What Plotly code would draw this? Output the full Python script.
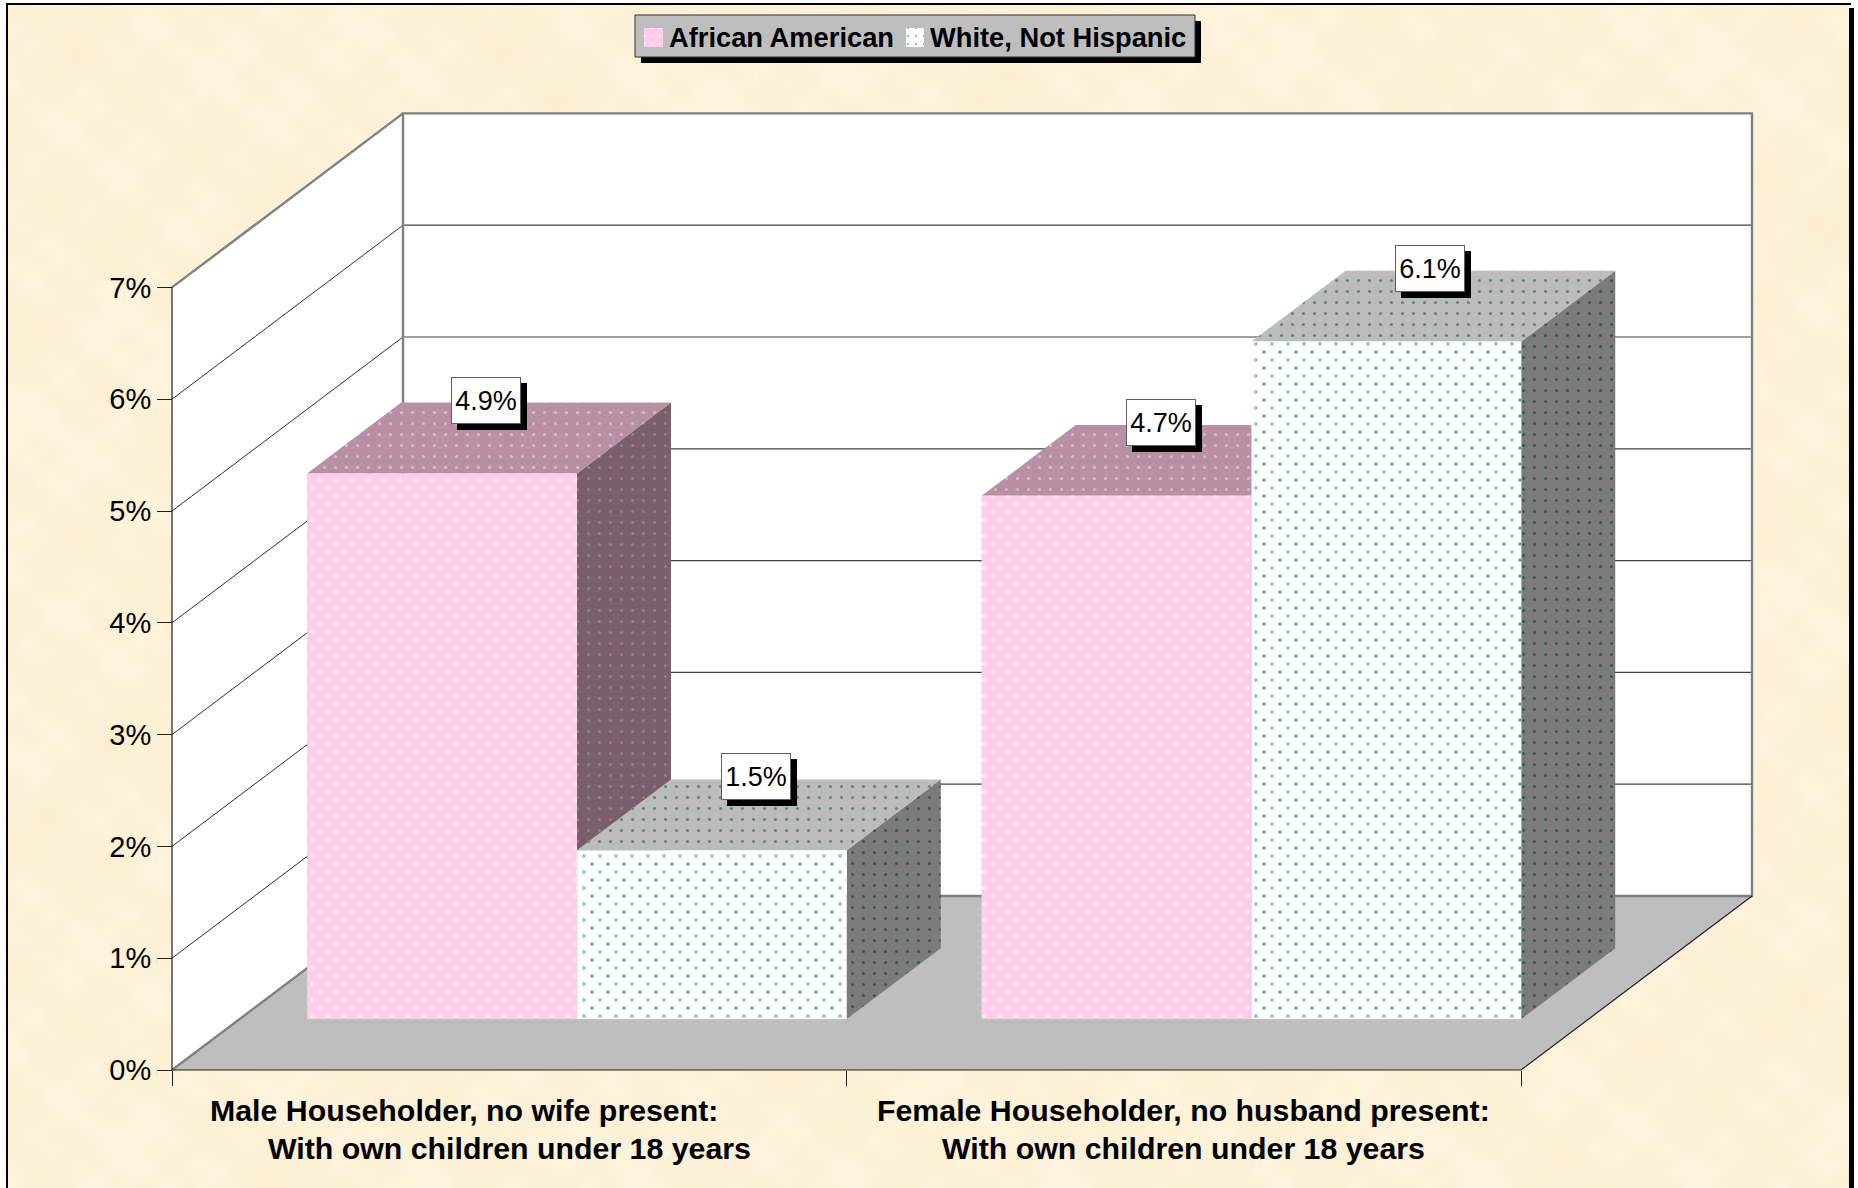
import base64, struct, zlib
import numpy as np
import plotly.graph_objects as go

# ---- data ----
categories = ["Male Householder, no wife present:", "Female Householder, no husband present:"]
subtitle = "With own children under 18 years"
series_names = ["African American", "White, Not Hispanic"]
african_american = [4.88, 4.68]
white_not_hispanic = [1.51, 6.06]
y_ticks = [0, 1, 2, 3, 4, 5, 6, 7]

# ---- geometry (pixels of the page and the oblique projection) ----
W, H = 1858, 1188
X0_PX, Y0_PX = 172, 1070          # origin of the front plane
CAT_PX, UNIT_PX = 674.5, 111.8    # px per category, px per percent
DEPTH_PX_X, DEPTH_PX_Y = 231, 174
DX, DY = DEPTH_PX_X / CAT_PX, DEPTH_PX_Y / UNIT_PX
GAP, BAR_W = 0.1, 0.4
D0, D1 = 0.293, 0.7
YMAX = y_ticks[-1]
NCAT = len(categories)
FONT = "Liberation Sans, Arial, sans-serif"
OFFSET_PX = 8                     # second pattern layer starts half a tile away


def proj(cat, depth, val):
    return cat + depth * DX, val + depth * DY


def poly(*pts):
    xs, ys = zip(*[proj(*p) for p in pts])
    return list(xs) + [xs[0]], list(ys) + [ys[0]]


def segs(*lines):
    xs, ys = [], []
    for line in lines:
        for p in line:
            a, b = proj(*p)
            xs.append(a)
            ys.append(b)
        xs.append(None)
        ys.append(None)
    return xs, ys


def px_rect(x0, x1, y0, y1):
    xs = [(p - X0_PX) / CAT_PX for p in (x0, x1, x1, x0, x0)]
    ys = [(Y0_PX - p) / UNIT_PX for p in (y0, y0, y1, y1, y0)]
    return xs, ys


def parchment_png():
    w, h = 232, 148
    yy, xx = np.mgrid[0:h, 0:w].astype(float)
    t = (np.sin(xx * .11 + yy * .07) * .5 + np.sin(xx * .23 - yy * .31 + 1.3)
         + np.sin(xx * .47 + yy * .41 + 2.1) + np.sin(xx * .71 - yy * .83 + .4)
         + np.sin(yy * .19 + 4 * np.sin(xx * .05)) * .6 + np.sin(xx * 1.3 + yy * 1.7) * .8)
    t = t / np.abs(t).max()
    r = 253 - 1 * np.clip(t, 0, 1) + 1 * np.clip(-t, 0, 1)
    g = 242 - 3 * np.clip(t, 0, 1) + 1 * np.clip(-t, 0, 1)
    b = 217 - 8 * np.clip(t, 0, 1) + 6 * np.clip(-t, 0, 1)
    rgb = np.dstack([r, g, b]).clip(0, 255).astype(np.uint8)
    raw = b"".join(b"\0" + rgb[i].tobytes() for i in range(h))

    def chunk(tag, data):
        body = tag + data
        return struct.pack(">I", len(data)) + body + struct.pack(">I", zlib.crc32(body))

    png = (b"\x89PNG\r\n\x1a\n" + chunk(b"IHDR", struct.pack(">IIBBBBB", w, h, 8, 2, 0, 0, 0))
           + chunk(b"IDAT", zlib.compress(raw)) + chunk(b"IEND", b""))
    return "data:image/png;base64," + base64.b64encode(png).decode()


fig = go.Figure()


def add_fill(x, y, color, name=None, pattern=None, axes=("x", "y")):
    fig.add_trace(go.Scatter(
        x=x, y=y, mode="lines", fill="toself", fillcolor=color, line=dict(width=0, color=color),
        fillpattern=pattern, name=name, showlegend=False, hoverinfo="skip", xaxis=axes[0], yaxis=axes[1]))


def add_line(x, y, color, width):
    fig.add_trace(go.Scatter(x=x, y=y, mode="lines", line=dict(color=color, width=width),
                             showlegend=False, hoverinfo="skip"))


# walls and floor
add_fill(*poly((0, 0, 0), (0, 1, 0), (0, 1, YMAX), (0, 0, YMAX)), "#FFFFFF")
add_fill(*poly((0, 1, 0), (NCAT, 1, 0), (NCAT, 1, YMAX), (0, 1, YMAX)), "#FFFFFF")
add_fill(*poly((0, 0, 0), (NCAT, 0, 0), (NCAT, 1, 0), (0, 1, 0)), "#BEBEBE")
add_line(*segs(*[[(0, 0, v), (0, 1, v)] for v in y_ticks[1:-1]]), "#303030", 1)
add_line(*segs(*[[(0, 1, v), (NCAT, 1, v)] for v in y_ticks[1:-1]]), "#404040", 1.2)
add_line(*segs([(0, 0, 0), (0, 1, 0), (0, 1, YMAX), (NCAT, 1, YMAX), (NCAT, 1, 0), (0, 1, 0)],
               [(0, 0, YMAX), (0, 1, YMAX)]), "#808080", 2.4)
add_line(*segs([(0, 0, YMAX), (0, 0, 0), (NCAT, 0, 0), (NCAT, 1, 0)]), "#202020", 1.2)


def pat(fg, bg, solidity=0.06, size=11):
    return dict(shape=".", size=size, solidity=solidity, fgcolor=fg, bgcolor=bg, fillmode="replace")


NONE = "rgba(0,0,0,0)"
styles = [
    dict(front=pat("#FFFFFF", "#FFCDE8", .035, 16), front2=pat("#FFF4FA", NONE, .035, 16),
         top=pat("#CFC0C8", "#B98FA6"), side=pat("#8F8088", "#7A5F6B"),
         fc="#FFCDE8", tc="#B98FA6", sc="#7A5F6B"),
    dict(front=pat("#85CFB2", "#FFFFFF", .045, 16), front2=pat("#3F9C78", NONE, .03, 16),
         top=pat("#4F8D72", "#BCBCBC"), side=pat("#2C5F49", "#7B7B7B"),
         fc="#FFFFFF", tc="#BCBCBC", sc="#7B7B7B"),
]
values = [african_american, white_not_hispanic]

labels = []
for c in range(NCAT):
    for s, vals in enumerate(values):
        v = vals[c]
        st = styles[s]
        x0 = c + GAP + s * BAR_W
        x1 = x0 + BAR_W
        add_fill(*poly((x1, D0, 0), (x1, D1, 0), (x1, D1, v), (x1, D0, v)), st["sc"], pattern=st["side"])
        add_fill(*poly((x0, D0, v), (x1, D0, v), (x1, D1, v), (x0, D1, v)), st["tc"], pattern=st["top"])
        add_fill(*poly((x0, D0, 0), (x1, D0, 0), (x1, D0, v), (x0, D0, v)), st["fc"],
                 name=series_names[s], pattern=st["front"])
        labels.append((proj((x0 + x1) / 2, (D0 + D1) / 2, v), f"{v:.1f}%"))

# second, half-tile shifted dot layer on the front faces (drawn on a subplot whose origin differs)
for c in range(NCAT):
    for s, vals in enumerate(values):
        v = vals[c]
        x0 = c + GAP + s * BAR_W
        x1 = x0 + BAR_W
        add_fill(*poly((x0, D0, 0), (x1, D0, 0), (x1, D0, v), (x0, D0, v)), NONE,
                 pattern=styles[s]["front2"], axes=("x2", "y2"))

# legend swatches
swatches = [(644, 663), (906, 924)]
for s, (a, b) in enumerate(swatches):
    add_fill(*px_rect(a, b, 28, 47), styles[s]["fc"], pattern=pat(*(("#FFFFFF", "#FFCDE8", .06) if s == 0 else ("#5DB28F", "#FFFFFF", .05)), 8))

annotations = []
for (lx, ly), txt in labels:
    common = dict(x=lx, y=ly, xref="x", yref="y", showarrow=False, width=62, height=39,
                  borderpad=3, borderwidth=1, xanchor="center", yanchor="middle")
    annotations.append(dict(text=" ", bgcolor="#000000", bordercolor="#000000",
                            xshift=3, yshift=32, **common))
    annotations.append(dict(text=txt, bgcolor="#FFFFFF", bordercolor="#606060",
                            font=dict(family=FONT, size=27, color="#000000"),
                            xshift=-3, yshift=38, **common))

cat_shift = [-45, 0]
for c, cat in enumerate(categories):
    annotations.append(dict(text=f"<b>{cat}</b>", x=c + .5, y=0, xref="x", yref="y", showarrow=False,
                            xshift=cat_shift[c], yshift=-40, xanchor="center", yanchor="middle",
                            font=dict(family=FONT, size=30.3, color="#000000")))
    annotations.append(dict(text=f"<b>{subtitle}</b>", x=c + .5, y=0, xref="x", yref="y", showarrow=False,
                            yshift=-78, xanchor="center", yanchor="middle",
                            font=dict(family=FONT, size=30.3, color="#000000")))

legend_text_x = [666.5, 928]
for s, name in enumerate(series_names):
    annotations.append(dict(text=f"<b>{name}</b>", x=legend_text_x[s] / W, y=1 - 37 / H, xref="paper", yref="paper",
                            showarrow=False, xanchor="left", yanchor="middle",
                            font=dict(family=FONT, size=27.3, color="#000000")))


def rect(x0, x1, y0, y1, fill, line=None):
    return dict(type="rect", xref="paper", yref="paper", layer="below",
                x0=x0 / W, x1=x1 / W, y0=1 - y1 / H, y1=1 - y0 / H, fillcolor=fill,
                line=dict(width=1, color=line) if line else dict(width=0))


shapes = [
    rect(6, 8, 3, H, "#000000"),            # page frame
    rect(6, 1851, 3, 5, "#000000"),
    rect(1849, 1854, 8, H, "#000000"),
    rect(641, 1201, 21, 63, "#000000"),     # legend shadow
    rect(635, 1195, 15, 57, "#BEBEBE", "#303030"),
]

fig.update_layout(
    width=W, height=H, margin=dict(l=0, r=0, t=0, b=0), autosize=False,
    paper_bgcolor="#FFFFFF", plot_bgcolor="rgba(0,0,0,0)", showlegend=False,
    font=dict(family=FONT, color="#000000"),
    xaxis=dict(range=[-X0_PX / CAT_PX, (W - X0_PX) / CAT_PX], anchor="free", position=(H - Y0_PX) / H,
               tickvals=list(range(NCAT + 1)), ticktext=[""] * (NCAT + 1), ticks="outside", ticklen=15,
               tickcolor="#202020", tickwidth=1, showgrid=False, zeroline=False, showline=False, fixedrange=True),
    yaxis=dict(range=[(Y0_PX - H) / UNIT_PX, Y0_PX / UNIT_PX], anchor="free", position=X0_PX / W,
               tickvals=y_ticks, ticktext=[f"{v}%" for v in y_ticks], ticks="outside", ticklen=15,
               tickcolor="#202020", tickwidth=1, showgrid=False, zeroline=False, showline=False, fixedrange=True,
               tickfont=dict(family=FONT, size=29, color="#000000")),
    xaxis2=dict(domain=[OFFSET_PX / W, 1], anchor="y2", visible=False, fixedrange=True,
                range=[(OFFSET_PX - X0_PX) / CAT_PX, (W - X0_PX) / CAT_PX]),
    yaxis2=dict(domain=[0, 1 - OFFSET_PX / H], anchor="x2", visible=False, fixedrange=True,
                range=[(Y0_PX - H) / UNIT_PX, (Y0_PX - OFFSET_PX) / UNIT_PX]),
    images=[dict(source=parchment_png(), xref="paper", yref="paper", x=8 / W, y=1 - 5 / H,
                 sizex=1841 / W, sizey=1183 / H, sizing="stretch", xanchor="left", yanchor="top", layer="below")],
    shapes=shapes, annotations=annotations,
)

fig.write_html("out.html", config=dict(displayModeBar=False),
               post_script="document.body.style.margin='0';document.body.style.overflow='hidden';")
